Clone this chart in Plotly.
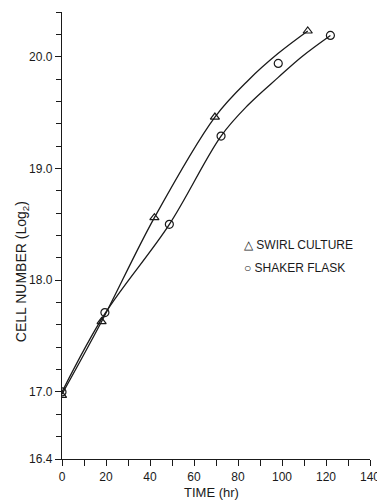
import plotly.graph_objects as go

# Data points
swirl_time = [0, 18, 42, 69.5, 111.7]
swirl_cells = [16.97, 17.63, 18.56, 19.46, 20.23]

shaker_time = [0, 19.5, 48.8, 72.3, 98.3, 122]
shaker_cells = [17.0, 17.71, 18.5, 19.29, 19.94, 20.19]

# hand-drawn fitted curves, positions
swirl_fit_time = [0, 18, 42, 69.5, 84.7, 98.3, 111.7]
swirl_fit_cells = [16.98, 17.63, 18.56, 19.46, 19.79, 20.03, 20.23]

shaker_fit_time = [0, 19.5, 48.8, 72.3, 84.7, 98.3, 109, 122]
shaker_fit_cells = [17.0, 17.70, 18.5, 19.29, 19.57, 19.815, 20.0, 20.19]

y_major = [16.4, 17.0, 18.0, 19.0, 20.0]
y_major_text = ["16.4", "17.0", "18.0", "19.0", "20.0"]
x_major = [0, 20, 40, 60, 80, 100, 120, 140]

legend_labels = ["\u25b3 SWIRL CULTURE", "\u25cb SHAKER FLASK"]

FONT = "Liberation Sans, Arial, sans-serif"
INK = "#1a1a1a"

fig = go.Figure()

fig.add_trace(go.Scatter(x=swirl_fit_time, y=swirl_fit_cells, mode="lines",
                         line=dict(color=INK, width=1.3, shape="spline", smoothing=1.0),
                         showlegend=False, hoverinfo="skip"))
fig.add_trace(go.Scatter(x=shaker_fit_time, y=shaker_fit_cells, mode="lines",
                         line=dict(color=INK, width=1.3, shape="spline", smoothing=1.0),
                         showlegend=False, hoverinfo="skip"))

fig.add_trace(go.Scatter(x=swirl_time, y=swirl_cells, mode="markers", name="SWIRL CULTURE",
                         showlegend=False,
                         marker=dict(symbol="triangle-up-open", size=8, color=INK,
                                     line=dict(width=1.2, color=INK))))
fig.add_trace(go.Scatter(x=shaker_time, y=shaker_cells, mode="markers", name="SHAKER FLASK",
                         showlegend=False,
                         marker=dict(symbol="circle-open", size=8, color=INK,
                                     line=dict(width=1.2, color=INK))))

# page body adds an 8px margin, so the figure is sized/positioned to compensate
fig.update_layout(
    width=377, height=492,
    margin=dict(l=54, r=15, t=4, b=41),
    paper_bgcolor="white", plot_bgcolor="white",
    font=dict(family=FONT, size=12, color=INK),
    showlegend=False,
    xaxis=dict(range=[0, 140], tickvals=x_major, ticks="outside", ticklen=6,
               tickwidth=1.2, tickcolor=INK, showline=True, linecolor=INK, linewidth=1.3,
               showgrid=False, zeroline=False,
               minor=dict(dtick=10, tick0=0, ticks="outside", ticklen=6, tickwidth=1.2,
                          tickcolor=INK, showgrid=False),
               tickfont=dict(size=12, family=FONT)),
    yaxis=dict(range=[16.4, 20.4], tickvals=y_major, ticktext=y_major_text,
               ticks="outside", ticklen=6, tickwidth=1.2, tickcolor=INK,
               showline=True, linecolor=INK, linewidth=1.3, showgrid=False, zeroline=False,
               minor=dict(dtick=0.2, tick0=16.4, ticks="outside", ticklen=5, tickwidth=1.2,
                          tickcolor=INK, showgrid=False),
               tickfont=dict(size=12, family=FONT)),
)

for i, lab in enumerate(legend_labels):
    fig.add_annotation(text=lab, xref="paper", yref="paper", x=0.585, y=0.478 - i * 0.051,
                       xanchor="left", yanchor="middle", showarrow=False,
                       font=dict(size=12, family=FONT, color=INK))

fig.add_annotation(text="TIME (hr)", xref="paper", yref="paper", x=0.485, y=0,
                   yshift=-33, showarrow=False, xanchor="center", yanchor="middle",
                   font=dict(size=13, family=FONT, color=INK))
fig.add_annotation(text="CELL NUMBER (Log<sub>2</sub>)", xref="paper", yref="paper",
                   x=0, xshift=-40, y=0.418, textangle=-90, showarrow=False,
                   xanchor="center", yanchor="middle",
                   font=dict(size=14, family=FONT, color=INK))

fig.write_html("out.html")
